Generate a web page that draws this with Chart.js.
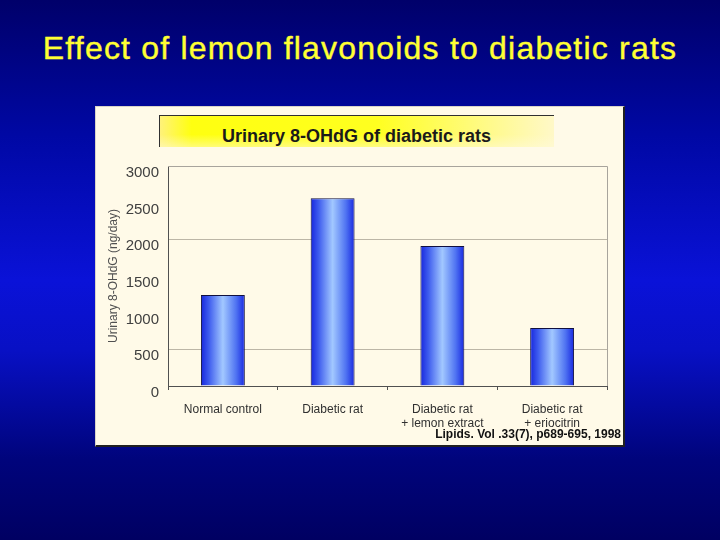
<!DOCTYPE html>
<html>
<head>
<meta charset="utf-8">
<script src="https://cdn.jsdelivr.net/npm/chart.js@4.4.1/dist/chart.umd.min.js"></script>
<style>
    html, body {
        margin: 0;
        padding: 0;
    }
    body {
        width: 720px;
        height: 540px;
        overflow: hidden;
        position: relative;
        background: linear-gradient(to bottom, #00006a 0%, #0008a4 25%, #0a12d8 52%, #0810c4 65%, #00047c 85%, #000062 100%);
        font-family: "Liberation Sans", Arial, sans-serif;
    }
    .slide-title {
        position: absolute;
        left: 0;
        top: 30px;
        width: 720px;
        text-align: center;
        font-size: 32px;
        line-height: 36px;
        letter-spacing: 1.2px;
        color: #ffff33;
        -webkit-text-stroke: 0.4px #ffff33;
    }
    .card {
        position: absolute;
        left: 95px;
        top: 106px;
        width: 530px;
        height: 341px;
        box-sizing: border-box;
        background: #fffae8;
        border-top: 1px solid #d8d4c8;
        border-left: 1px solid #d8d4c8;
        border-right: 2px solid #202020;
        border-bottom: 2px solid #202020;
    }
    .band {
        position: absolute;
        left: 63px;
        top: 8px;
        width: 395px;
        height: 32px;
        box-sizing: border-box;
        border-top: 1px solid #303030;
        border-left: 1px solid #303030;
        background: linear-gradient(to bottom, rgba(255, 255, 255, 0) 60%, rgba(255, 250, 220, 0.5) 100%),
                    linear-gradient(to right, #fff27a 0%, #ffff10 8%, #ffff20 55%, #fffa90 85%, #fff8c8 100%);
    }
    .band-title {
        position: absolute;
        left: 63px;
        top: 19px;
        width: 395px;
        text-align: center;
        font-size: 18px;
        line-height: 20px;
        font-weight: bold;
        color: #1a1a1a;
    }
    .citation {
        position: absolute;
        right: 2px;
        top: 320px;
        font-size: 12px;
        line-height: 14px;
        font-weight: bold;
        color: #111;
    }
    #chart {
        position: absolute;
        left: 0;
        top: 0;
    }
</style>
</head>
<body>
<div class="slide-title">Effect of lemon flavonoids to diabetic rats</div>
<div class="card">
    <canvas id="chart" width="528" height="338"></canvas>
    <div class="band"></div>
    <div class="band-title">Urinary 8-OHdG of diabetic rats</div>
    <div class="citation">Lipids. Vol .33(7), p689-695, 1998</div>
</div>
<script>
    // data
    const groups = [
        ['Normal control'],
        ['Diabetic rat'],
        ['Diabetic rat', '+ lemon extract'],
        ['Diabetic rat', '+ eriocitrin']
    ];
    const ohdgValues = [1240, 2560, 1910, 790];
    const yTicks = [0, 500, 1000, 1500, 2000, 2500, 3000];
    const gridAt = [500, 2000];

    const BAR_FRACTION = 0.4;

    // light centre, dark edges, like the old Excel cylinder-ish fill
    function barFill(ctx) {
        const chart = ctx.chart;
        const xScale = chart.scales.x;
        if (!chart.chartArea || !xScale) {
            return '#5070f0';
        }
        const centre = xScale.getPixelForValue(ctx.dataIndex);
        const half = xScale.width / groups.length * BAR_FRACTION / 2;
        const g = chart.ctx.createLinearGradient(centre - half, 0, centre + half, 0);
        g.addColorStop(0, '#1626de');
        g.addColorStop(0.18, '#3e5cee');
        g.addColorStop(0.5, '#a2c8ff');
        g.addColorStop(0.8, '#5074f2');
        g.addColorStop(1, '#1828e0');
        return g;
    }

    // top and right edge of the plot box
    const plotFrame = {
        id: 'plotFrame',
        beforeDatasetsDraw(chart) {
            const {ctx, chartArea} = chart;
            ctx.save();
            ctx.strokeStyle = '#a8a49c';
            ctx.lineWidth = 1;
            ctx.beginPath();
            ctx.moveTo(chartArea.left, chartArea.top + 0.5);
            ctx.lineTo(chartArea.right + 0.5, chartArea.top + 0.5);
            ctx.lineTo(chartArea.right + 0.5, chartArea.bottom);
            ctx.stroke();
            ctx.restore();
        }
    };

    new Chart(document.getElementById('chart'), {
        type: 'bar',
        data: {
            labels: groups,
            datasets: [{
                data: ohdgValues,
                backgroundColor: barFill,
                borderColor: '#101040',
                borderWidth: {top: 1, left: 1, right: 1, bottom: 0},
                borderSkipped: false,
                barPercentage: 0.5,
                categoryPercentage: 0.8
            }]
        },
        options: {
            responsive: false,
            animation: false,
            devicePixelRatio: 1,
            layout: {
                padding: {top: 59, right: 17, bottom: 9, left: 0}
            },
            plugins: {
                legend: {display: false},
                tooltip: {enabled: false}
            },
            scales: {
                x: {
                    afterFit(scale) {
                        scale.height = 50;
                    },
                    grid: {
                        offset: true,
                        drawOnChartArea: false,
                        drawTicks: true,
                        tickLength: 4,
                        color: '#505050'
                    },
                    border: {color: '#505050'},
                    ticks: {
                        padding: 12,
                        color: '#303030',
                        font: {family: 'Liberation Sans, Arial, sans-serif', size: 12}
                    }
                },
                y: {
                    min: 0,
                    max: 3000,
                    afterFit(scale) {
                        scale.width = 72;
                    },
                    afterBuildTicks(scale) {
                        scale.ticks = yTicks.map(v => ({value: v}));
                    },
                    grid: {
                        drawTicks: false,
                        color: (c) => gridAt.includes(c.tick && c.tick.value) ? '#bcb6a6' : 'rgba(0,0,0,0)'
                    },
                    border: {color: '#505050'},
                    ticks: {
                        padding: 9,
                        labelOffset: 7,
                        color: '#404040',
                        font: {family: 'Liberation Sans, Arial, sans-serif', size: 15},
                        callback: (v) => String(v)
                    },
                    title: {
                        display: true,
                        text: 'Urinary 8-OHdG (ng/day)',
                        color: '#505050',
                        padding: {top: 10, bottom: 0},
                        font: {family: 'Liberation Sans, Arial, sans-serif', size: 12}
                    }
                }
            }
        },
        plugins: [plotFrame]
    });
</script>
</body>
</html>
